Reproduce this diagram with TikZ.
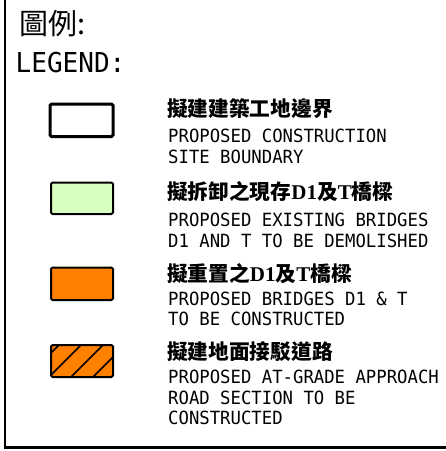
\documentclass[tikz,border=0pt]{standalone}
\usepackage{fontspec}
\newfontfamily\cadfont[FakeStretch=0.95]{DejaVu Sans Mono}
\newfontfamily\cjkfont{Noto Sans CJK TC}
\newfontfamily\serfont{Liberation Serif}
\definecolor{demgreen}{HTML}{D9FFC0}
\definecolor{conorange}{HTML}{FF8000}
\begin{document}
\begin{tikzpicture}[x=1pt,y=-1pt,
  txt/.style={anchor=base west,inner sep=0pt,font=\cadfont\fontsize{18.2}{20}\selectfont},
  head/.style={anchor=base west,inner sep=0pt,font=\cjkfont\bfseries\fontsize{20.7}{22}\selectfont},
  swatch/.style={draw=black,line width=2pt,rounded corners=1.5pt}]
\useasboundingbox (0,0) rectangle (446,451);
% frame
\coordinate (ftop) at (4.5,0);
\coordinate (fcorner) at (4.5,447);
\coordinate (fright) at (446,447);
\draw[line width=2pt] (ftop) -- (fcorner);
\draw[line width=3pt] (3.5,447) -- (fright);
% title
\node[anchor=base west,inner sep=0pt,font=\cjkfont\fontsize{29}{31}\selectfont] (title) at (19,34) {圖例:};
\node[anchor=base west,inner sep=0pt,font=\cadfont\fontsize{27.4}{30}\selectfont] (legend) at (15.5,72) {LEGEND:};
% item 1
\draw[swatch,line width=3pt,fill=white] (50,104) rectangle (113,136.5);
\node[head] (h1) at (167,116.5) {擬建建築工地邊界};
\node[txt] (a1) at (168,142.7) {PROPOSED CONSTRUCTION};
\node[txt] (b1) at (168,163.5) {SITE BOUNDARY};
% item 2
\draw[swatch,fill=demgreen] (51,182.5) rectangle (113,214);
\node[head] (h2) at (167,199.5) {擬拆卸之現存{\serfont\bfseries\fontsize{21}{23}\selectfont D1}及{\serfont\bfseries\fontsize{21}{23}\selectfont T}橋樑};
\node[txt] (a2) at (168,226) {PROPOSED EXISTING BRIDGES};
\node[txt] (b2) at (168,247) {D1 AND T TO BE DEMOLISHED};
% item 3
\draw[swatch,fill=conorange] (51,267.5) rectangle (113,300);
\node[head] (h3) at (167,281) {擬重置之{\serfont\bfseries\fontsize{21}{23}\selectfont D1}及{\serfont\bfseries\fontsize{21}{23}\selectfont T}橋樑};
\node[txt] (a3) at (168,305) {PROPOSED BRIDGES D1 \& T};
\node[txt] (b3) at (168,325.7) {TO BE CONSTRUCTED};
% item 4
\fill[conorange] (51,345) rectangle (113,377);
\begin{scope}
  \clip (51,345) rectangle (113,377);
  \foreach \c in {404,426,448,470}
    \draw[line width=1.6pt] (\c-377-10,377+10) -- (\c-345+10,345-10);
\end{scope}
\draw[swatch] (51,345) rectangle (113,377);
\node[head] (h4) at (167,359.5) {擬建地面接駁道路};
\node[txt] (a4) at (168,383.3) {PROPOSED AT-GRADE APPROACH};
\node[txt] (b4) at (168,404) {ROAD SECTION TO BE};
\node[txt] (c4) at (168,424.3) {CONSTRUCTED};
\end{tikzpicture}
\end{document}
